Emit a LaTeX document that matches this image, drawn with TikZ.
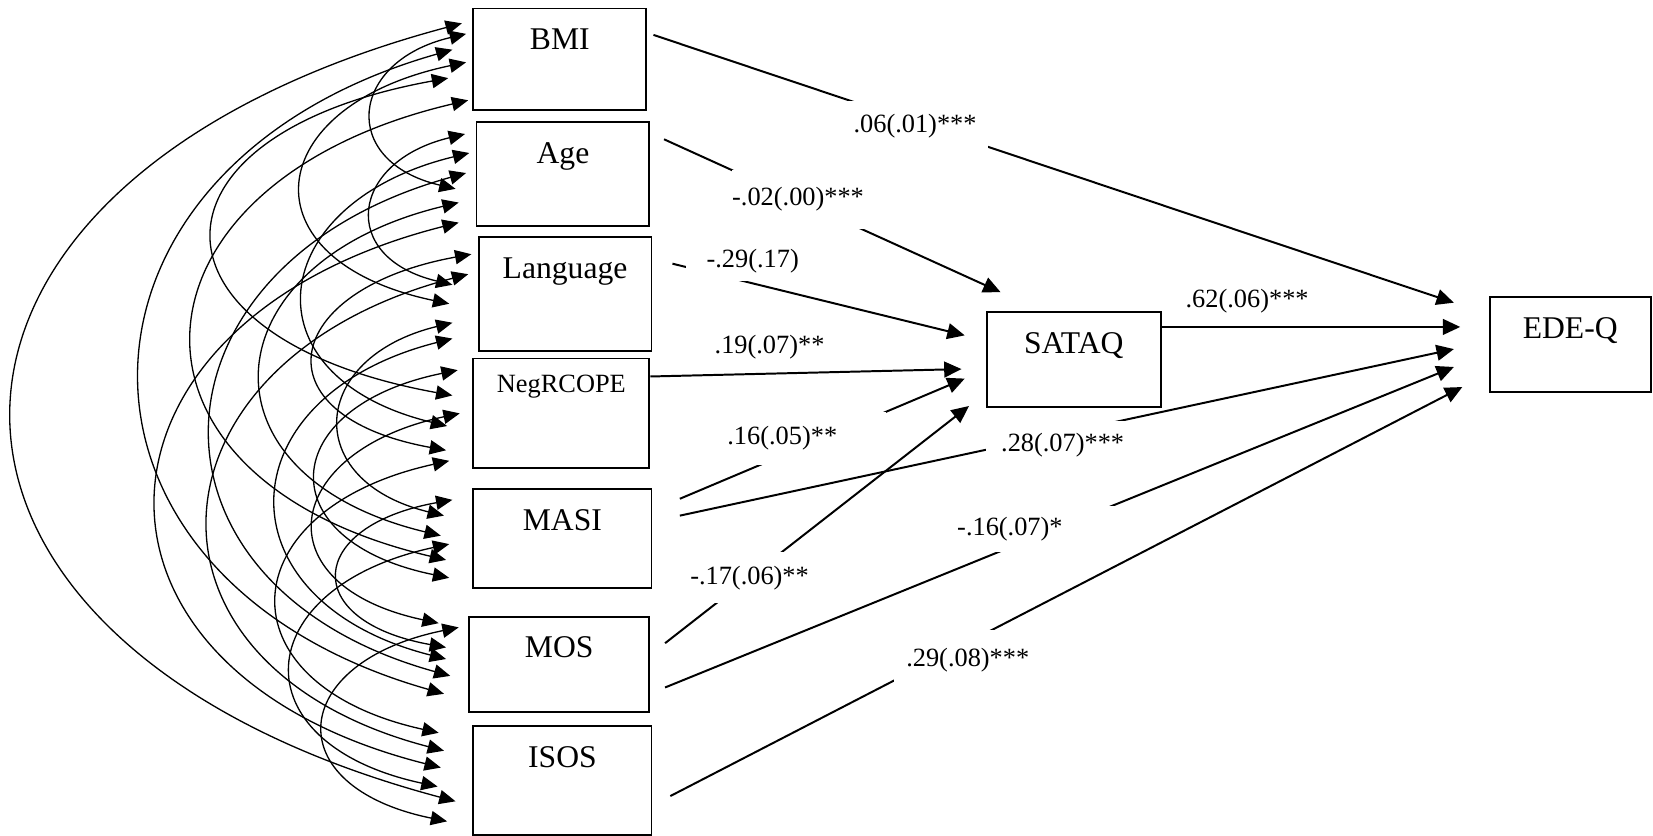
\documentclass[tikz,border=0pt]{standalone}
\usepackage{fontspec}
\setmainfont{Liberation Serif}
\usetikzlibrary{arrows.meta}
\tikzset{varbox/.style={draw, line width=0.7pt, inner sep=0pt, text height=15.6pt, font=\fontsize{12}{14}\selectfont}}
\tikzset{coef/.style={fill=white, inner sep=0pt, font=\fontsize{10}{12}\selectfont}}
\tikzset{edgecov/.style={<->, >={Triangle[length=6.2pt, width=5.4pt]}, line width=0.5pt}}
\tikzset{edgereg/.style={->, >={Triangle[length=6.6pt, width=6pt]}, line width=0.75pt}}

\begin{document}
\begin{tikzpicture}[x=0.4pt, y=-0.4pt]
            \useasboundingbox (0, 0) rectangle (1568, 793);

            \node [varbox, minimum width=65.6pt, text depth=22.8pt] (BMI) at (531, 56) {BMI};
            \node [varbox, minimum width=65.6pt, text depth=23.6pt] (Age) at (534, 165) {Age};
            \node [varbox, minimum width=65.6pt, text depth=27.6pt] (Language) at (536, 279) {Language};
            \node [varbox, minimum width=66.8pt, text height=12.8pt, text depth=28.8pt, font=\fontsize{10}{12}\selectfont] (NegRCOPE) at (532.5, 392) {NegRCOPE};
            \node [varbox, minimum width=67.6pt, text depth=22pt] (MASI) at (533.5, 511) {MASI};
            \node [varbox, minimum width=68.4pt, text depth=20.4pt] (MOS) at (530.5, 630) {MOS};
            \node [varbox, minimum width=67.6pt, text depth=25.6pt] (ISOS) at (533.5, 740.5) {ISOS};
            \node [varbox, minimum width=66pt, text depth=20.4pt] (SATAQ) at (1018.5, 341) {SATAQ};
            \node [varbox, minimum width=61.2pt, text depth=20.4pt] (EDEQ) at (1489.5, 327) {EDE-Q};

            \draw [edgecov] ([shift={(-6,25)}]BMI.north west) .. controls +(-111,26) and +(-111,-26) .. ([shift={(-19,64)}]Age.north west);
            \draw [edgecov] ([shift={(-6,52)}]BMI.north west) .. controls +(-196,41) and +(-196,-41) .. ([shift={(-27,64)}]Language.north west);
            \draw [edgecov] ([shift={(-23,67)}]BMI.north west) .. controls +(-299,54) and +(-299,-54) .. ([shift={(-19,36)}]NegRCOPE.north west);
            \draw [edgecov] ([shift={(-4,88)}]BMI.north west) .. controls +(-333,78) and +(-333,-78) .. ([shift={(-25,68)}]MASI.north west);
            \draw [edgecov] ([shift={(-19,40)}]BMI.north west) .. controls +(-388,110) and +(-388,-110) .. ([shift={(-23,74)}]MOS.north west);
            \draw [edgecov] ([shift={(-10,15)}]BMI.north west) .. controls +(-563,150) and +(-563,-150) .. ([shift={(-16,72)}]ISOS.north west);

            \draw [edgecov] ([shift={(-10,12)}]Age.north west) .. controls +(-109,26) and +(-109,-26) .. ([shift={(-24,46)}]Language.north west);
            \draw [edgecov] ([shift={(-6,30)}]Age.north west) .. controls +(-194,47) and +(-194,-47) .. ([shift={(-24,65)}]NegRCOPE.north west);
            \draw [edgecov] ([shift={(-16,77)}]Age.north west) .. controls +(-237,57) and +(-237,-57) .. ([shift={(-30,45)}]MASI.north west);
            \draw [edgecov] ([shift={(-9,49)}]Age.north west) .. controls +(-311,86) and +(-311,-86) .. ([shift={(-17,57)}]MOS.north west);
            \draw [edgecov] ([shift={(-16,96)}]Age.north west) .. controls +(-369,93) and +(-369,-93) .. ([shift={(-30,40)}]ISOS.north west);

            \draw [edgecov] ([shift={(-6,17)}]Language.north west) .. controls +(-181,33) and +(-181,-33) .. ([shift={(-25,88)}]NegRCOPE.north west);
            \draw [edgecov] ([shift={(-24,82)}]Language.north west) .. controls +(-136,33) and +(-136,-33) .. ([shift={(-27,26)}]MASI.north west);
            \draw [edgecov] ([shift={(-24,97)}]Language.north west) .. controls +(-217,55) and +(-217,-55) .. ([shift={(-21,41)}]MOS.north west);
            \draw [edgecov] ([shift={(-9,36)}]Language.north west) .. controls +(-311,81) and +(-311,-81) .. ([shift={(-27,24)}]ISOS.north west);

            \draw [edgecov] ([shift={(-14,12)}]NegRCOPE.north west) .. controls +(-172,35) and +(-172,-35) .. ([shift={(-22,85)}]MASI.north west);
            \draw [edgecov] ([shift={(-12,53)}]NegRCOPE.north west) .. controls +(-169,36) and +(-169,-36) .. ([shift={(-28,7)}]MOS.north west);
            \draw [edgecov] ([shift={(-22,98)}]NegRCOPE.north west) .. controls +(-209,46) and +(-209,-46) .. ([shift={(-32,7)}]ISOS.north west);

            \draw [edgecov] ([shift={(-19,11)}]MASI.north west) .. controls +(-139,25) and +(-139,-25) .. ([shift={(-21,30)}]MOS.north west);
            \draw [edgecov] ([shift={(-22,53)}]MASI.north west) .. controls +(-191,41) and +(-191,-41) .. ([shift={(-33,58)}]ISOS.north west);

            \draw [edgecov] ([shift={(-9,11)}]MOS.north west) .. controls +(-162,33) and +(-162,-33) .. ([shift={(-24,91)}]ISOS.north west);

            \draw [edgereg] ([shift={(6,26)}]BMI.north east) -- ([shift={(-33,6)}]EDEQ.north west);
            \draw [edgereg] ([shift={(13,17)}]Age.north east) -- ([shift={(14,-18)}]SATAQ.north west);
            \draw [edgereg] ([shift={(19,26)}]Language.north east) -- ([shift={(-20,23)}]SATAQ.north west);
            \draw [edgereg] ([shift={(0,18)}]NegRCOPE.north east) -- ([shift={(-23,55)}]SATAQ.north west);
            \draw [edgereg] ([shift={(26,10)}]MASI.north east) -- ([shift={(-20,64)}]SATAQ.north west);
            \draw [edgereg] ([shift={(26,26)}]MASI.north east) -- ([shift={(-33,50)}]EDEQ.north west);
            \draw [edgereg] ([shift={(14,26)}]MOS.north east) -- ([shift={(-16,90)}]SATAQ.north west);
            \draw [edgereg] ([shift={(14,68)}]MOS.north east) -- ([shift={(-33,67)}]EDEQ.north west);
            \draw [edgereg] ([shift={(17,67)}]ISOS.north east) -- ([shift={(-25,86)}]EDEQ.north west);
            \draw [edgereg] ([shift={(0,15)}]SATAQ.north east) -- ([shift={(-27,29)}]EDEQ.north west);

            \node [coef, minimum width=55.2pt, minimum height=19.2pt] (cBMI) at (868, 120) {.06(.01)***};
            \node [coef, minimum height=22.4pt] (cAge) at (757, 189) {-.02(.00)***};
            \node [coef, minimum width=50.4pt, minimum height=15.2pt] (cLanguage) at (714, 248) {-.29(.17)};
            \node [coef, inner sep=1pt] (cNegRCOPE) at (730, 329) {.19(.07)**};
            \node [coef, text width=60pt, align=left, minimum height=20pt] (cMASIs) at (765, 416) {.16(.05)**};
            \node [coef, minimum width=58.4pt, minimum height=18.4pt] (cMASIe) at (1008, 422) {.28(.07)***};
            \node [coef, minimum height=19.2pt] (cMOSs) at (711, 548) {-.17(.06)**};
            \node [coef, text width=61.6pt, align=left, minimum height=17.6pt] (cMOSe) at (985, 502) {-.16(.07)*};
            \node [coef, minimum width=56pt, minimum height=22.4pt] (cISOS) at (918, 626) {.29(.08)***};
            \node [coef, inner sep=1pt] (cSATAQ) at (1183, 286) {.62(.06)***};
        \end{tikzpicture}
\end{document}
